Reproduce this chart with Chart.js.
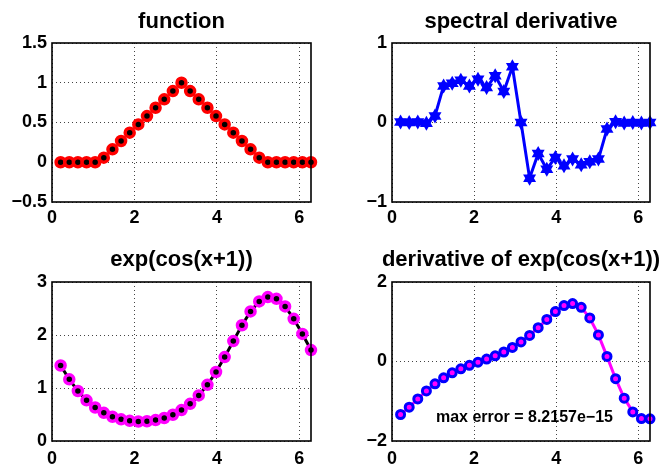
<!DOCTYPE html>
<html>
<head>
<meta charset="utf-8">
<script src="https://cdn.jsdelivr.net/npm/chart.js@4"></script>
<style>
  body { margin: 0; background: #fff; }
  #wrap { position: relative; width: 662px; height: 466px; }
  canvas { position: absolute; }
</style>
</head>
<body>
<div id="wrap">
  <canvas id="c1" width="331" height="233" style="left:0;top:0"></canvas>
  <canvas id="c2" width="331" height="233" style="left:331px;top:0"></canvas>
  <canvas id="c3" width="331" height="233" style="left:0;top:233px"></canvas>
  <canvas id="c4" width="331" height="233" style="left:331px;top:233px"></canvas>
</div>
<script>
// grid points x_j = j*h, h = 2*pi/30
var xs = [0.209, 0.419, 0.628, 0.838, 1.047, 1.257, 1.466, 1.676, 1.885, 2.094,
          2.304, 2.513, 2.723, 2.932, 3.142, 3.351, 3.560, 3.770, 3.979, 4.189,
          4.398, 4.608, 4.817, 5.027, 5.236, 5.445, 5.655, 5.864, 6.074, 6.283];

// hat function
var hatVals = [0, 0, 0, 0, 0, 0.058, 0.162, 0.267, 0.372, 0.476,
               0.581, 0.686, 0.791, 0.895, 1.0, 0.895, 0.791, 0.686, 0.581, 0.476,
               0.372, 0.267, 0.162, 0.058, 0, 0, 0, 0, 0, 0];

// its spectral derivative
var hatDeriv = [0.005, 0.0, 0.005, -0.01, 0.083, 0.46, 0.495, 0.53, 0.46, 0.545,
                0.44, 0.587, 0.39, 0.70, 0.0, -0.70, -0.39, -0.587, -0.44, -0.545,
                -0.46, -0.53, -0.495, -0.46, -0.083, 0.01, -0.005, 0.0, -0.005, 0.0];

// exp(cos(x+1))
var smoothVals = [1.425, 1.163, 0.944, 0.768, 0.632, 0.531, 0.458, 0.409, 0.380, 0.368,
                  0.373, 0.394, 0.434, 0.496, 0.583, 0.701, 0.860, 1.060, 1.302, 1.584,
                  1.885, 2.184, 2.445, 2.633, 2.715, 2.683, 2.540, 2.305, 2.020, 1.716];

// its derivative
var smoothDeriv = [-1.333, -1.149, -0.943, -0.741, -0.562, -0.411, -0.286, -0.184, -0.097, -0.017,
                   0.060, 0.143, 0.239, 0.353, 0.491, 0.655, 0.850, 1.058, 1.256, 1.406,
                   1.457, 1.364, 1.095, 0.669, 0.128, -0.432, -0.922, -1.268, -1.437, -1.443];

var xTicks = [0, 2, 4, 6];
var titles = ['function', 'spectral derivative', 'exp(cos(x+1))', 'derivative of exp(cos(x+1))'];
var errText = 'max error = 8.2157e\u221215';

function pts(ys) {
    return xs.map(function(x, i) { return { x: x, y: ys[i] }; });
}

var FONT = '"Liberation Sans", Arial, Helvetica, sans-serif';

// box and title in MATLAB style
var panelPlugin = {
    id: 'panel',
    afterDraw: function(chart, args, opts) {
        var ctx = chart.ctx, a = chart.chartArea;
        ctx.save();
        ctx.strokeStyle = '#000';
        ctx.lineWidth = 1.6;
        ctx.strokeRect(a.left, a.top, a.right - a.left, a.bottom - a.top);
        ctx.fillStyle = '#000';
        ctx.font = 'bold 22px ' + FONT;
        ctx.textAlign = 'center';
        ctx.textBaseline = 'alphabetic';
        ctx.fillText(opts.title, (a.left + a.right) / 2, opts.titleY);
        if (opts.note) {
            ctx.font = 'bold 16px ' + FONT;
            ctx.textAlign = 'left';
            ctx.textBaseline = 'middle';
            ctx.fillText(opts.note.text,
                chart.scales.x.getPixelForValue(opts.note.x),
                chart.scales.y.getPixelForValue(opts.note.y));
        }
        ctx.restore();
    }
};

function tickLabel(v) {
    return String(v).replace('-', '\u2212');
}

function makeChart(id, datasets, yMin, yMax, yStep, cfg) {
    var grid = { color: '#444', lineWidth: 1, drawTicks: false };
    var border = { display: false, dash: [1, 3] };
    datasets.forEach(function(d) { d.clip = false; });
    return new Chart(document.getElementById(id), {
        type: 'scatter',
        data: { datasets: datasets },
        plugins: [panelPlugin],
        options: {
            responsive: false,
            animation: false,
            layout: { padding: { left: 0, right: cfg.right, top: cfg.top, bottom: 0 } },
            plugins: {
                legend: { display: false },
                tooltip: { enabled: false },
                title: { display: false },
                panel: { title: cfg.title, titleY: cfg.titleY, note: cfg.note }
            },
            scales: {
                x: {
                    type: 'linear', min: 0, max: 6.2832,
                    afterBuildTicks: function(s) { s.ticks = xTicks.map(function(v) { return { value: v }; }); },
                    afterFit: function(s) { s.height = cfg.xh; },
                    grid: grid,
                    border: border,
                    ticks: { color: '#000', font: { family: FONT, size: 18, weight: 'bold' }, padding: cfg.xpad, maxRotation: 0, callback: tickLabel }
                },
                y: {
                    min: yMin, max: yMax,
                    ticks: { stepSize: yStep, color: '#000', font: { family: FONT, size: 18, weight: 'bold' }, padding: 5, callback: tickLabel },
                    afterFit: function(s) { s.width = cfg.yw; },
                    grid: grid,
                    border: border
                }
            }
        }
    });
}

document.addEventListener('DOMContentLoaded', function() {
    // top left: hat function
    makeChart('c1', [{
        data: pts(hatVals), showLine: false,
        pointRadius: 4.5, pointBorderWidth: 3.5,
        pointBorderColor: '#ff0000', pointBackgroundColor: '#000'
    }], -0.5, 1.5, 0.5, { right: 20, top: 43, xh: 31, xpad: 5, yw: 52, title: titles[0], titleY: 28 });

    // top right: spectral derivative with hexagram markers
    makeChart('c2', [{
        data: pts(hatDeriv), showLine: true, borderColor: '#0000ff', borderWidth: 3,
        pointStyle: 'triangle', pointRadius: 7.5, pointBorderWidth: 0,
        pointBackgroundColor: '#0000ff', pointBorderColor: '#0000ff'
    }, {
        data: pts(hatDeriv), showLine: false,
        pointStyle: 'triangle', pointRotation: 180, pointRadius: 7.5, pointBorderWidth: 0,
        pointBackgroundColor: '#0000ff', pointBorderColor: '#0000ff'
    }], -1, 1, 1, { right: 12, top: 43, xh: 31, xpad: 5, yw: 61, title: titles[1], titleY: 28 });

    // bottom left: exp(cos(x+1))
    makeChart('c3', [{
        data: pts(smoothVals), showLine: true, borderColor: '#000', borderWidth: 3,
        pointRadius: 4.5, pointBorderWidth: 3.5,
        pointBorderColor: '#ff00ff', pointBackgroundColor: '#000'
    }], 0, 3, 1, { right: 20, top: 49, xh: 25, xpad: 7, yw: 52, title: titles[2], titleY: 33 });

    // bottom right: its derivative
    makeChart('c4', [{
        data: pts(smoothDeriv), showLine: true, borderColor: '#ff00ff', borderWidth: 3,
        pointRadius: 4, pointBorderWidth: 3,
        pointBorderColor: '#0000ff', pointBackgroundColor: '#ff00ff'
    }], -2, 2, 2, { right: 12, top: 49, xh: 25, xpad: 7, yw: 61, title: titles[3], titleY: 33,
        note: { text: errText, x: 1.07, y: -1.42 } });
});
</script>
</body>
</html>
